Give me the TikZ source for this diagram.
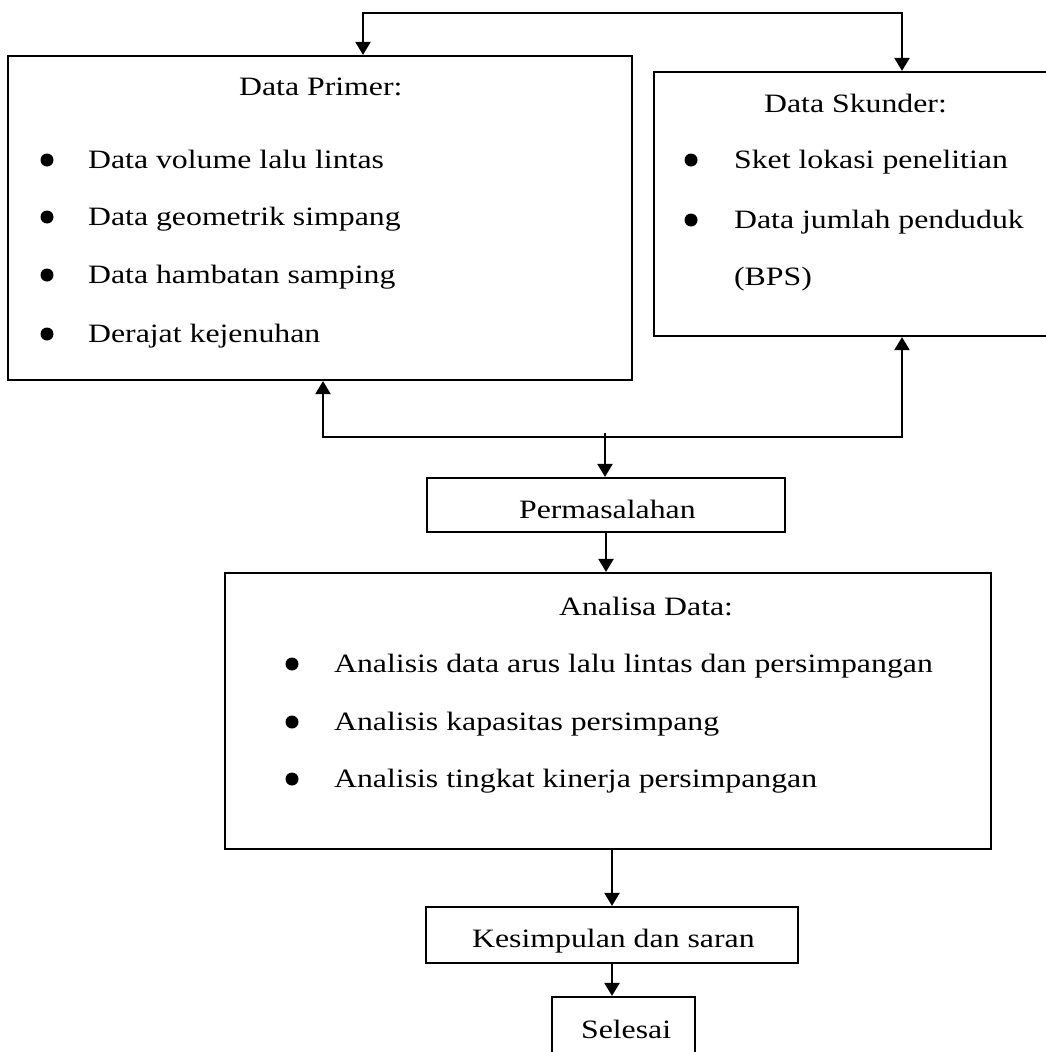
\documentclass[tikz,border=0pt]{standalone}
\usepackage{fontspec}
\setmainfont{Liberation Serif}[FakeStretch=1.2]
\usetikzlibrary{arrows.meta}

\begin{document}
\begin{tikzpicture}[
  x=1pt, y=-1pt,
  line width=2.2pt,
  box/.style={draw, rectangle, inner sep=0pt},
  txt/.style={
    anchor=base west, inner sep=0pt,
    font=\fontsize{26.5}{31}\selectfont
  },
  bul/.style={circle, fill=black, inner sep=0pt, minimum size=13pt},
  arr/.style={-{Triangle[length=13pt,width=15pt]}}
]
  \useasboundingbox (0,0) rectangle (1046,1052);
  \clip (0,0) rectangle (1046,1052);
  \node[box, minimum width=624pt, minimum height=324pt] (primer) at (320,218){};
  \node[box, minimum width=402pt, minimum height=264pt] (skunder) at (855,204){};
  \node[box, minimum width=358pt, minimum height=54pt] (masalah) at (606,505){};
  \node[box, minimum width=766pt, minimum height=276pt] (analisa) at (608,711){};
  \node[box, minimum width=372pt, minimum height=56pt] (simpulan) at (612,935){};
  \node[box, minimum width=143pt, minimum height=68pt] (selesai) at (623.5,1031){};
  % Data Primer
  \node[txt] (primerT) at (238,95){Data Primer:};
  \foreach \y/\t [count=\i] in {168/Data volume lalu lintas,225/Data geometrik simpang,
    283/Data hambatan samping,342/Derajat kejenuhan} {
    \node[bul] (pb\i) at (47,\y-8){};
    \node[txt] (pt\i) at (87,\y){\t};
  }
  % Data Skunder
  \node[txt] (skunderT) at (763,112){Data Skunder:};
  \foreach \y/\t [count=\i] in {168/Sket lokasi penelitian,228/Data jumlah penduduk} {
    \node[bul] (sb\i) at (691,\y-8){};
    \node[txt] (st\i) at (733,\y){\t};
  }
  \node[txt] (st3) at (733,285){(BPS)};
  % Analisa Data
  \node[txt] (analisaT) at (558,615){Analisa Data:};
  \foreach \y/\t [count=\i] in {672/Analisis data arus lalu lintas dan persimpangan,
    730/Analisis kapasitas persimpang,787/Analisis tingkat kinerja persimpangan} {
    \node[bul] (ab\i) at (292,\y-8){};
    \node[txt] (at\i) at (333,\y){\t};
  }
  \node[txt] (masalahT) at (518,518){Permasalahan};
  \node[txt] (simpulanT) at (471,947){Kesimpulan dan saran};
  \node[txt] (selesaiT) at (580,1038){Selesai};
  % connectors
  \coordinate (tl) at (363,13);
  \coordinate (tr) at (902,13);
  \coordinate (bl) at (323,437);
  \coordinate (br) at (902,437);
  \coordinate (bm) at (605,433);
  \draw[line cap=rect] (tl)--(tr);
  \draw[arr] (tl)--(tl |- primer.north);
  \draw[arr] (tr)--(tr |- skunder.north);
  \draw[line cap=rect] (bl)--(br);
  \draw[arr] (bl)--(bl |- primer.south);
  \draw[arr] (br)--(br |- skunder.south);
  \draw[arr] (bm)--(bm |- masalah.north);
  \draw[arr] (masalah.south)--(masalah.south |- analisa.north);
  \draw[arr] (simpulan.north |- analisa.south)--(simpulan.north);
  \draw[arr] (simpulan.south)--(simpulan.south |- selesai.north);
\end{tikzpicture}
\end{document}
